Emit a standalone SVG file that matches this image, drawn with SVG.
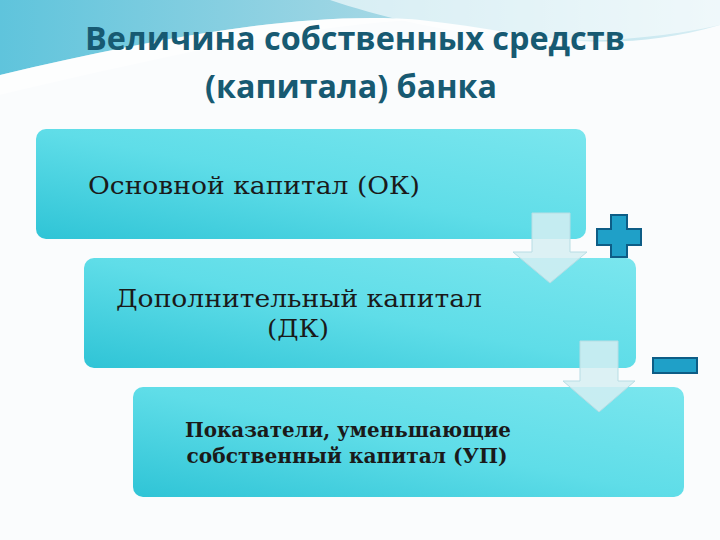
<svg xmlns="http://www.w3.org/2000/svg" width="720" height="540" viewBox="0 0 720 540">
<defs>
<linearGradient id="bx" x1="0" y1="1" x2="1" y2="0">
<stop offset="0" stop-color="#2fc4d6"/><stop offset="0.5" stop-color="#5fdde8"/><stop offset="1" stop-color="#7ae6ee"/>
</linearGradient>
<linearGradient id="sky" x1="0" y1="0" x2="1" y2="0">
<stop offset="0" stop-color="#5fc4dc"/><stop offset="0.5" stop-color="#9fd6e4"/><stop offset="1" stop-color="#d8eef4"/>
</linearGradient>
<style>
.box{fill:url(#bx)}
.arr{fill:#d6eef2;fill-opacity:0.85;stroke:#b8dde4;stroke-width:1}
.sign{fill:#1fa0c8;stroke:#0d5d86;stroke-width:2}
.t{font-family:"DejaVu Serif","Liberation Serif",serif;fill:#1a1a1a}
.h{font-family:"Open Sans","DejaVu Sans",sans-serif;font-weight:bold;fill:#175a72;font-size:32px;text-anchor:middle}
</style>
</defs>
<rect width="720" height="540" fill="#fafcfd"/>
<path d="M0 0H720V25C600 60 520 30 420 20C300 10 150 40 0 75Z" fill="url(#sky)"/>
<path d="M330 0C420 30 560 60 720 25V0Z" fill="#ffffff" opacity="0.6"/>
<path d="M0 75C150 40 300 10 420 20C300 25 150 60 0 95Z" fill="#ffffff" opacity="0.5"/>
<text class="h" x="355" y="50" textLength="540" lengthAdjust="spacingAndGlyphs">Величина собственных средств</text>
<text class="h" x="351" y="98" textLength="292" lengthAdjust="spacingAndGlyphs">(капитала) банка</text>
<g id="n1"><rect class="box" x="36" y="129" width="550" height="110" rx="10"/>
<text class="t" x="88" y="194" font-size="25" textLength="332" lengthAdjust="spacingAndGlyphs">Основной капитал (ОК)</text></g>
<g id="n2"><rect class="box" x="84" y="258" width="552" height="110" rx="10"/>
<text class="t" x="299" y="307" font-size="25" text-anchor="middle" textLength="366" lengthAdjust="spacingAndGlyphs">Дополнительный капитал</text>
<text class="t" x="298" y="337" font-size="25" text-anchor="middle" textLength="62" lengthAdjust="spacingAndGlyphs">(ДК)</text></g>
<g id="n3"><rect class="box" x="133" y="387" width="551" height="110" rx="10"/>
<text class="t" x="348" y="437" font-size="20" font-weight="bold" text-anchor="middle" textLength="326" lengthAdjust="spacingAndGlyphs">Показатели, уменьшающие</text>
<text class="t" x="347" y="463" font-size="20" font-weight="bold" text-anchor="middle" textLength="321" lengthAdjust="spacingAndGlyphs">собственный капитал (УП)</text></g>
<g id="connectors">
<path class="arr" d="M532 213H570V252H587L550 283L513 252H532Z"/>
<path class="arr" d="M580 341H618V381H635L599 412L563 381H580Z"/>
</g>
<g id="plus"><path class="sign" d="M611 215H627V229H641V245H627V257H611V245H597V229H611Z"/></g>
<g id="minus"><rect class="sign" x="653" y="358" width="44" height="15"/></g>
</svg>
